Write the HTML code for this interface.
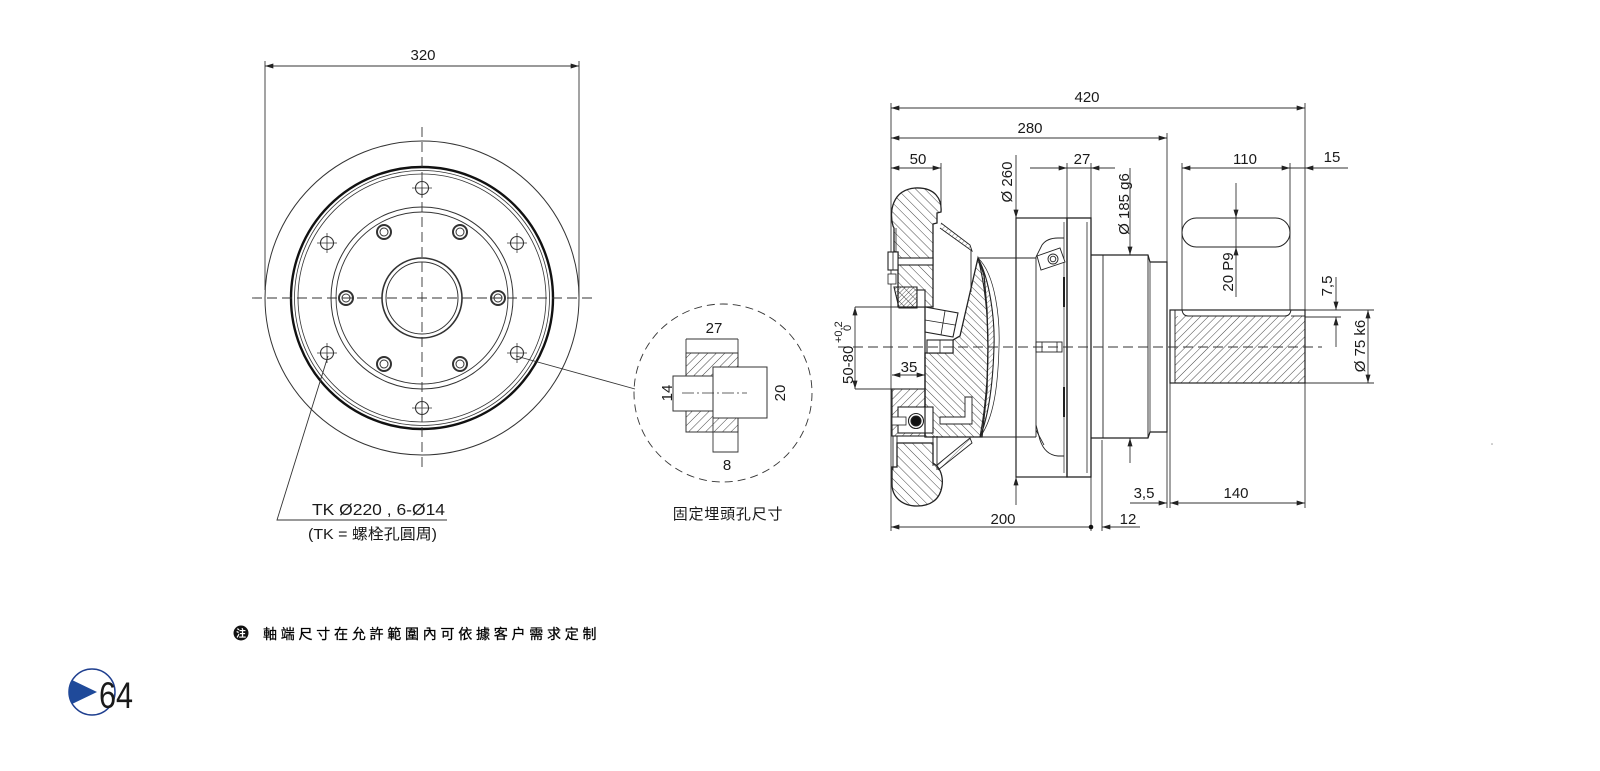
<!DOCTYPE html>
<html><head><meta charset="utf-8"><style>
html,body{margin:0;padding:0;background:#fff;}
svg{display:block;}
text{font-family:"Liberation Sans","Noto Sans CJK TC",sans-serif;fill:#1a1a1a;}
</style></head><body>
<svg width="1600" height="771" viewBox="0 0 1600 771" xmlns="http://www.w3.org/2000/svg">
<defs>
<marker id="ar" viewBox="0 0 10 6" refX="10" refY="3" markerWidth="9" markerHeight="5" markerUnits="userSpaceOnUse" orient="auto-start-reverse"><path d="M0,0 L10,3 L0,6 Z" fill="#222"/></marker>
<pattern id="hL" width="5.5" height="5.5" patternUnits="userSpaceOnUse" patternTransform="rotate(45)"><line x1="0" y1="0" x2="0" y2="5.5" stroke="#333" stroke-width="0.9"/></pattern>
<pattern id="hR" width="5.5" height="5.5" patternUnits="userSpaceOnUse" patternTransform="rotate(-45)"><line x1="0" y1="0" x2="0" y2="5.5" stroke="#333" stroke-width="0.9"/></pattern>
<pattern id="hW" width="6.5" height="6.5" patternUnits="userSpaceOnUse" patternTransform="rotate(-45)"><line x1="0" y1="0" x2="0" y2="6.5" stroke="#333" stroke-width="0.9"/></pattern>
<pattern id="hD" width="6" height="6" patternUnits="userSpaceOnUse" patternTransform="rotate(45)"><line x1="0" y1="0" x2="0" y2="6" stroke="#333" stroke-width="0.9"/></pattern>
<pattern id="hX" width="3" height="3" patternUnits="userSpaceOnUse" patternTransform="rotate(45)"><line x1="0" y1="0" x2="0" y2="3" stroke="#333" stroke-width="0.8"/></pattern>
<pattern id="hS" width="4" height="4" patternUnits="userSpaceOnUse" patternTransform="rotate(45)"><line x1="0" y1="0" x2="0" y2="4" stroke="#444" stroke-width="0.7"/></pattern>
</defs>

<!-- ================= LEFT VIEW ================= -->
<g stroke="#333" fill="none">
  <line x1="265" y1="61" x2="265" y2="290" stroke-width="0.9"/>
  <line x1="579" y1="61" x2="579" y2="297" stroke-width="0.9"/>
  <line x1="265" y1="66" x2="579" y2="66" stroke-width="0.9" marker-start="url(#ar)" marker-end="url(#ar)"/>
  <circle cx="422" cy="298" r="157" stroke-width="1"/>
  <circle cx="422" cy="298" r="131" stroke-width="2.4" stroke="#111"/>
  <circle cx="422" cy="298" r="127.5" stroke-width="0.8"/>
  <circle cx="422" cy="298" r="124" stroke-width="0.8"/>
  <circle cx="422" cy="298" r="91" stroke-width="1"/>
  <circle cx="422" cy="298" r="86" stroke-width="0.9"/>
  <circle cx="422" cy="298" r="40" stroke-width="1.6"/>
  <circle cx="422" cy="298" r="36" stroke-width="1"/>
  <line x1="252" y1="298" x2="593" y2="298" stroke-width="0.9" stroke-dasharray="10 5"/>
  <line x1="422" y1="127" x2="422" y2="470" stroke-width="0.9" stroke-dasharray="10 5"/>
  <g stroke-width="1.1">
    <circle cx="422" cy="188" r="6.5"/><line x1="412" y1="188" x2="432" y2="188" stroke-width="0.8"/><line x1="422" y1="178" x2="422" y2="198" stroke-width="0.8"/>
    <circle cx="422" cy="408" r="6.5"/><line x1="412" y1="408" x2="432" y2="408" stroke-width="0.8"/><line x1="422" y1="398" x2="422" y2="418" stroke-width="0.8"/>
    <circle cx="327" cy="243" r="6.5"/><line x1="317" y1="243" x2="337" y2="243" stroke-width="0.8"/><line x1="327" y1="233" x2="327" y2="253" stroke-width="0.8"/>
    <circle cx="517" cy="243" r="6.5"/><line x1="507" y1="243" x2="527" y2="243" stroke-width="0.8"/><line x1="517" y1="233" x2="517" y2="253" stroke-width="0.8"/>
    <circle cx="327" cy="353" r="6.5"/><line x1="317" y1="353" x2="337" y2="353" stroke-width="0.8"/><line x1="327" y1="343" x2="327" y2="363" stroke-width="0.8"/>
    <circle cx="517" cy="353" r="6.5"/><line x1="507" y1="353" x2="527" y2="353" stroke-width="0.8"/><line x1="517" y1="343" x2="517" y2="363" stroke-width="0.8"/>
  </g>
  <g>
    <circle cx="346" cy="298" r="7" stroke-width="2"/><circle cx="346" cy="298" r="4" stroke-width="1"/>
    <circle cx="498" cy="298" r="7" stroke-width="2"/><circle cx="498" cy="298" r="4" stroke-width="1"/>
    <circle cx="384" cy="232" r="7" stroke-width="2"/><circle cx="384" cy="232" r="4" stroke-width="1"/>
    <circle cx="460" cy="232" r="7" stroke-width="2"/><circle cx="460" cy="232" r="4" stroke-width="1"/>
    <circle cx="384" cy="364" r="7" stroke-width="2"/><circle cx="384" cy="364" r="4" stroke-width="1"/>
    <circle cx="460" cy="364" r="7" stroke-width="2"/><circle cx="460" cy="364" r="4" stroke-width="1"/>
  </g>
  <polyline points="328,356 277,520 447,520" stroke-width="0.9"/>
  <line x1="516" y1="356" x2="635" y2="389" stroke-width="0.9"/>
</g>
<text x="423" y="60" font-size="15" text-anchor="middle">320</text>
<text x="312" y="515" font-size="15.5" textLength="133" lengthAdjust="spacingAndGlyphs">TK Ø220 , 6-Ø14</text>
<text x="308" y="539" font-size="15" textLength="129" lengthAdjust="spacingAndGlyphs">(TK = 螺栓孔圓周)</text>

<!-- ================= DETAIL ================= -->
<g stroke="#333" fill="none">
  <circle cx="723" cy="393" r="89" stroke-width="0.9" stroke-dasharray="8 5"/>
  <path d="M686,353 H738 V367 H713 V376 H686 Z" fill="url(#hD)" stroke-width="1"/>
  <path d="M686,411 H713 V418 H738 V432 H686 Z" fill="url(#hD)" stroke-width="1"/>
  <path d="M686,339 H738 M686,339 V353 M738,339 V353" stroke-width="0.9"/>
  <path d="M713,376 H673 V411 H713" stroke-width="1"/>
  <path d="M713,367 H767 V418 H713 Z" stroke-width="1"/>
  <path d="M713,418 V452 H738 V432" stroke-width="0.9"/>
  <line x1="682" y1="393" x2="747" y2="393" stroke-width="0.8" stroke-dasharray="12 3 2 3"/>
</g>
<text x="714" y="333" font-size="15" text-anchor="middle">27</text>
<text x="727" y="470" font-size="15" text-anchor="middle">8</text>
<text transform="translate(672,393) rotate(-90)" font-size="15" text-anchor="middle">14</text>
<text transform="translate(785,393) rotate(-90)" font-size="15" text-anchor="middle">20</text>
<text x="728" y="519" font-size="15" text-anchor="middle" letter-spacing="0.8">固定埋頭孔尺寸</text>

<!-- ================= RIGHT VIEW ================= -->
<g stroke="#333" fill="none">
  <line x1="891" y1="103" x2="891" y2="531" stroke-width="0.9"/>
  <line x1="941" y1="163" x2="941" y2="212" stroke-width="0.9"/>
  <line x1="1305" y1="103" x2="1305" y2="310" stroke-width="0.9"/>
  <line x1="1305" y1="383" x2="1305" y2="508" stroke-width="0.9"/>
  <line x1="1167" y1="133" x2="1167" y2="508" stroke-width="0.9"/>
  <line x1="1170" y1="383" x2="1170" y2="508" stroke-width="0.9"/>
  <line x1="1182" y1="163" x2="1182" y2="310" stroke-width="0.9"/>
  <line x1="1290" y1="163" x2="1290" y2="310" stroke-width="0.9"/>
  <line x1="1067" y1="163" x2="1067" y2="218" stroke-width="0.9"/>
  <line x1="1091" y1="163" x2="1091" y2="531" stroke-width="0.9"/>
  <line x1="1102" y1="440" x2="1102" y2="531" stroke-width="0.9"/>
  <line x1="891" y1="108" x2="1305" y2="108" stroke-width="0.9" marker-start="url(#ar)" marker-end="url(#ar)"/>
  <line x1="891" y1="138" x2="1167" y2="138" stroke-width="0.9" marker-start="url(#ar)" marker-end="url(#ar)"/>
  <line x1="891" y1="168" x2="941" y2="168" stroke-width="0.9" marker-start="url(#ar)" marker-end="url(#ar)"/>
  <line x1="1030" y1="168" x2="1067" y2="168" stroke-width="0.9" marker-end="url(#ar)"/>
  <line x1="1067" y1="168" x2="1091" y2="168" stroke-width="0.9"/>
  <line x1="1115" y1="168" x2="1091" y2="168" stroke-width="0.9" marker-end="url(#ar)"/>
  <line x1="1182" y1="168" x2="1290" y2="168" stroke-width="0.9" marker-start="url(#ar)" marker-end="url(#ar)"/>
  <line x1="1290" y1="168" x2="1348" y2="168" stroke-width="0.9"/>
  <line x1="1348" y1="168" x2="1305" y2="168" stroke-width="0.9" marker-end="url(#ar)"/>
  <line x1="1016" y1="155" x2="1016" y2="218" stroke-width="0.9" marker-end="url(#ar)"/>
  <line x1="1016" y1="505" x2="1016" y2="477" stroke-width="0.9" marker-end="url(#ar)"/>
  <line x1="1130" y1="168" x2="1130" y2="255" stroke-width="0.9" marker-end="url(#ar)"/>
  <line x1="1130" y1="463" x2="1130" y2="438" stroke-width="0.9" marker-end="url(#ar)"/>
  <line x1="1236" y1="183" x2="1236" y2="218" stroke-width="0.9" marker-end="url(#ar)"/>
  <line x1="1236" y1="297" x2="1236" y2="247" stroke-width="0.9" marker-end="url(#ar)"/>
  <line x1="1236" y1="218" x2="1236" y2="247" stroke-width="0.9"/>
  <line x1="1305" y1="310" x2="1374" y2="310" stroke-width="0.9"/>
  <line x1="1305" y1="317" x2="1341" y2="317" stroke-width="0.9"/>
  <line x1="1305" y1="383" x2="1374" y2="383" stroke-width="0.9"/>
  <line x1="1336" y1="277" x2="1336" y2="310" stroke-width="0.9" marker-end="url(#ar)"/>
  <line x1="1336" y1="347" x2="1336" y2="317" stroke-width="0.9" marker-end="url(#ar)"/>
  <line x1="1368" y1="310" x2="1368" y2="383" stroke-width="0.9" marker-start="url(#ar)" marker-end="url(#ar)"/>
  <line x1="855" y1="307" x2="925" y2="307" stroke-width="0.9"/>
  <line x1="855" y1="389" x2="925" y2="389" stroke-width="0.9"/>
  <line x1="855" y1="307" x2="855" y2="389" stroke-width="0.9" marker-start="url(#ar)" marker-end="url(#ar)"/>
  <line x1="892" y1="375" x2="925" y2="375" stroke-width="0.9" marker-start="url(#ar)" marker-end="url(#ar)"/>
  <line x1="1130" y1="503" x2="1167" y2="503" stroke-width="0.9" marker-end="url(#ar)"/>
  <line x1="1170" y1="503" x2="1305" y2="503" stroke-width="0.9" marker-start="url(#ar)" marker-end="url(#ar)"/>
  <line x1="891" y1="527" x2="1091" y2="527" stroke-width="0.9" marker-start="url(#ar)"/>
  <line x1="1140" y1="527" x2="1102" y2="527" stroke-width="0.9" marker-end="url(#ar)"/>
</g>
<circle cx="1091" cy="527" r="2.3" fill="#111"/>

<g stroke="#222" fill="none" stroke-width="1.1">
  <path d="M893,226 C889,212 892,190 915,188 C936,187 942,200 941,212 L937,213 L937,223 L933,224 L933,307 L898,307 L898,252 L894,252 L894,228 Z" fill="url(#hW)" stroke-width="1.3"/>
  <rect x="898" y="258" width="35" height="7" fill="#fff"/>
  <rect x="888" y="252" width="10" height="18" fill="#fff"/>
  <line x1="893" y1="252" x2="893" y2="270" stroke-width="0.8"/>
  <rect x="888" y="274" width="8" height="10" fill="#fff" stroke-width="0.8"/>
  <polygon points="894,287 917,287 917,308 899,308" fill="url(#hX)"/>
  <rect x="917" y="290" width="8" height="17" fill="#fff"/>
  <line x1="896" y1="228" x2="896" y2="252" stroke-width="0.8"/>

  <rect x="892" y="389" width="33" height="47" fill="url(#hL)"/>
  <polygon points="978,258 984,275 987,310 988,347 987,390 982,437 925,437 925,353 953,353 953,340 960,336" fill="url(#hR)" stroke-width="1.3"/>
  <polygon points="925,307 958,313 953,337 925,332" fill="#fff"/>
  <line x1="925" y1="320" x2="955" y2="325" stroke-width="0.8"/>
  <line x1="945" y1="311" x2="941" y2="335" stroke-width="0.8"/>
  <rect x="927" y="340" width="26" height="13" fill="#fff"/>
  <line x1="940" y1="340" x2="940" y2="353" stroke-width="0.8"/>
  <path d="M940,417 H965 V397 H972 V424 H940 Z" fill="#fff" stroke-width="0.9"/>
  <rect x="898" y="407" width="35" height="26" fill="#fff"/>
  <rect x="892" y="417" width="14" height="8" fill="#fff" stroke-width="0.8"/>
  <circle cx="916" cy="421" r="7.5" fill="#fff"/>
  <circle cx="916" cy="421" r="5" fill="#111"/>
  <path d="M978,258 C990,280 995,320 994,347 C993,380 989,415 980,437 C985,410 988,380 988,347 C988,315 985,285 978,258 Z" fill="url(#hS)"/>
  <path d="M978,258 C996,275 1000,320 999,347 C998,385 994,418 980,437" stroke-width="0.7"/>
  <path d="M941,223 L970,245 L972,251 L940,228" fill="url(#hS)" stroke-width="0.9"/>
  <line x1="971" y1="250" x2="971" y2="292" stroke-width="0.9"/>
  <path d="M938,470 L972,443 L970,438 L937,465" fill="url(#hS)" stroke-width="0.9"/>
  <line x1="893" y1="436" x2="893" y2="470" stroke-width="0.9"/>
  <line x1="897" y1="436" x2="897" y2="443" stroke-width="0.9"/>
  <line x1="933" y1="436" x2="933" y2="466" stroke-width="0.9"/>
  <line x1="937" y1="436" x2="937" y2="470" stroke-width="0.9"/>
  <path d="M897,443 L933,443 L933,463 L937,466 C942,472 943,480 942,486 C940,500 930,506 917,506 C902,506 892,497 892,484 L892,467 L897,467 Z" fill="url(#hW)" stroke-width="1.3"/>
  <line x1="925" y1="307" x2="925" y2="437" stroke-width="1.2"/>

  <line x1="978" y1="258" x2="1036" y2="258" stroke-width="0.9"/>
  <line x1="980" y1="437" x2="1036" y2="437" stroke-width="0.9"/>
  <rect x="1016" y="218" width="51" height="259" stroke-width="1.2"/>
  <line x1="1036" y1="257" x2="1036" y2="437" stroke-width="0.9"/>
  <line x1="1064" y1="222" x2="1064" y2="473" stroke-width="0.7"/>
  <line x1="1064" y1="277" x2="1064" y2="307" stroke-width="2"/>
  <line x1="1064" y1="387" x2="1064" y2="417" stroke-width="2"/>
  <rect x="1067" y="218" width="24" height="259" stroke-width="1.3"/>
  <line x1="1087" y1="222" x2="1087" y2="473" stroke-width="0.8"/>
  <path d="M1036,257 L1042,245 Q1047,238 1058,238 L1064,238" stroke-width="0.9"/>
  <polygon points="1037,256 1060,248 1065,262 1041,270" fill="#fff" stroke-width="0.9"/>
  <circle cx="1053" cy="259" r="5" stroke-width="0.9"/>
  <circle cx="1053" cy="259" r="2.8" stroke-width="0.9"/>
  <path d="M1036,425 L1040,440 Q1045,455 1058,456 L1064,456" stroke-width="0.9"/>
  <path d="M1036,430 L1044,445" stroke-width="0.8"/>
  <rect x="1036" y="342" width="26" height="10" stroke-width="0.9"/>
  <line x1="1042" y1="342" x2="1042" y2="352" stroke-width="0.8"/>
  <line x1="1057" y1="342" x2="1057" y2="352" stroke-width="0.8"/>
  <path d="M1091,255 H1148 L1150,262 H1167 V432 H1150 L1148,438 H1091" stroke-width="1.2"/>
  <line x1="1103" y1="255" x2="1103" y2="438" stroke-width="0.9"/>
  <line x1="1148" y1="255" x2="1148" y2="438" stroke-width="0.9"/>
  <line x1="1150" y1="262" x2="1150" y2="432" stroke-width="0.8"/>
  <rect x="1175" y="316" width="130" height="67" fill="url(#hL)" stroke="none"/>
  <rect x="1170" y="310" width="135" height="73" stroke-width="1.2"/>
  <line x1="1175" y1="310" x2="1175" y2="383" stroke-width="0.9"/>
  <path d="M1182,310 Q1183,316 1188,316 H1285 Q1290,316 1291,310" stroke-width="0.9"/>
  <line x1="1291" y1="316" x2="1305" y2="316" stroke-width="0.9"/>
  <rect x="1182" y="218" width="108" height="29" rx="14.5" ry="14.5" stroke-width="1"/>
</g>
<line x1="838" y1="347" x2="1322" y2="347" stroke="#333" stroke-width="0.9" stroke-dasharray="10 5"/>
<circle cx="1492" cy="444" r="0.8" fill="#999"/>

<text x="1087" y="102" font-size="15" text-anchor="middle">420</text>
<text x="1030" y="133" font-size="15" text-anchor="middle">280</text>
<text x="918" y="164" font-size="15" text-anchor="middle">50</text>
<text x="1082" y="164" font-size="15" text-anchor="middle">27</text>
<text x="1245" y="164" font-size="15" text-anchor="middle">110</text>
<text x="1332" y="162" font-size="15" text-anchor="middle">15</text>
<text x="1144" y="498" font-size="15" text-anchor="middle">3,5</text>
<text x="1236" y="498" font-size="15" text-anchor="middle">140</text>
<text x="1003" y="524" font-size="15" text-anchor="middle">200</text>
<text x="1128" y="524" font-size="15" text-anchor="middle">12</text>
<text x="909" y="372" font-size="15" text-anchor="middle">35</text>
<text transform="translate(1012,182) rotate(-90)" font-size="15" text-anchor="middle">Ø 260</text>
<text transform="translate(1129,204) rotate(-90)" font-size="15" text-anchor="middle">Ø 185 g6</text>
<text transform="translate(1233,272) rotate(-90)" font-size="15" text-anchor="middle">20 P9</text>
<text transform="translate(1332,286) rotate(-90)" font-size="15" text-anchor="middle">7,5</text>
<text transform="translate(1365,346) rotate(-90)" font-size="15" text-anchor="middle">Ø 75 k6</text>
<text transform="translate(853,384) rotate(-90)" font-size="15">50-80</text>
<text transform="translate(842,343) rotate(-90)" font-size="11">+0,2</text>
<text transform="translate(851,331) rotate(-90)" font-size="11">0</text>

<!-- ================= NOTE ================= -->
<circle cx="241" cy="633" r="7.5" fill="#111"/>
<text x="241" y="637" font-size="10" text-anchor="middle" font-weight="bold" style="fill:#fff">注</text>
<text x="263" y="639" font-size="14" letter-spacing="3.75" style="fill:#000;stroke:#000;stroke-width:0.25">軸端尺寸在允許範圍內可依據客户需求定制</text>

<!-- ================= PAGE NUMBER ================= -->
<circle cx="92" cy="692" r="23" fill="none" stroke="#1f3f8f" stroke-width="1.5"/>
<path d="M72,680 L97,692 L72,704 A23,23 0 0 1 72,680 Z" fill="#1f4a9a"/>
<text x="99" y="708" font-size="37" textLength="34" lengthAdjust="spacingAndGlyphs">64</text>
</svg>
</body></html>
